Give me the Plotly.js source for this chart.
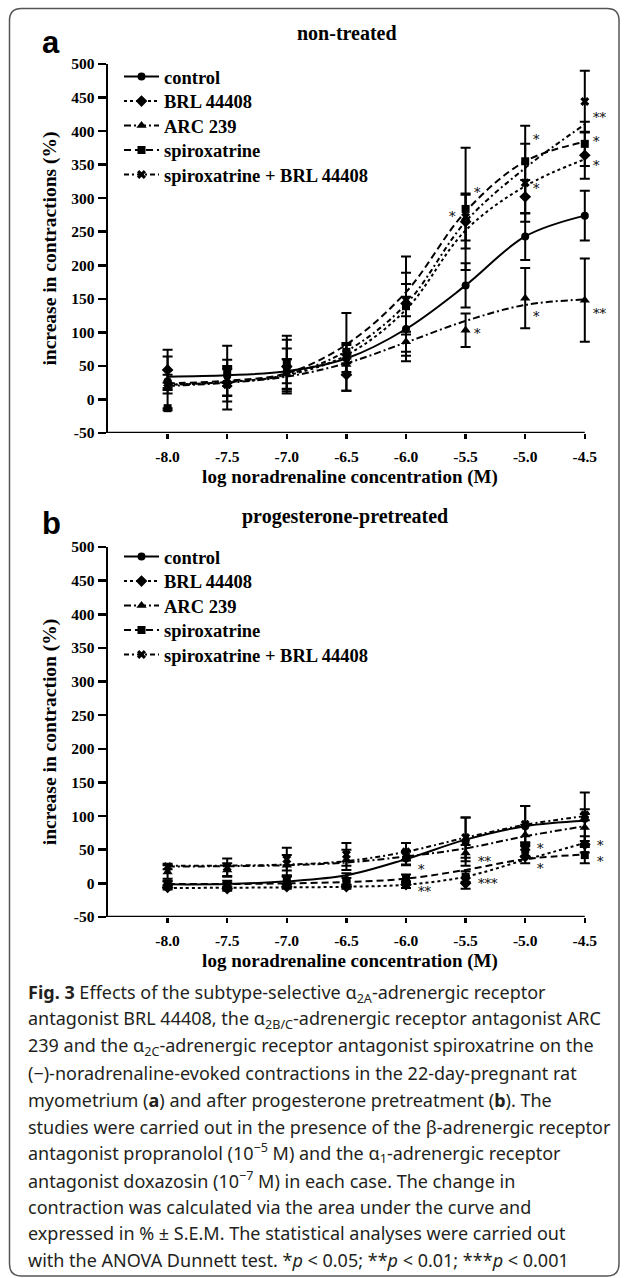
<!DOCTYPE html>
<html><head><meta charset="utf-8">
<script src="https://cdn.plot.ly/plotly-3.0.1.min.js"></script>
<style>html,body{margin:0;padding:0;background:#fff;} #chart{width:627px;height:1278px;}
#chart text{-webkit-font-smoothing:antialiased;}</style>
</head><body><div id="chart"></div>
<script>
// ---------- data ----------
const concentrations = [-8.0, -7.5, -7.0, -6.5, -6.0, -5.5, -5.0, -4.5];
const xTickLabels = ['-8.0', '-7.5', '-7.0', '-6.5', '-6.0', '-5.5', '-5.0', '-4.5'];
const yTickValues = [-50, 0, 50, 100, 150, 200, 250, 300, 350, 400, 450, 500];
const yTickLabels = ['-50', '0', '50', '100', '150', '200', '250', '300', '350', '400', '450', '500'];
const seriesNames = ['control', 'BRL 44408', 'ARC 239', 'spiroxatrine', 'spiroxatrine + BRL 44408'];

// panel a: non-treated (mean, S.E.M., fitted curve read at each concentration)
const aControl = [27, 35, 42, 61, 105, 170, 243, 274];
const aControlErr = [10, 15, 18, 20, 48, 33, 35, 37];
const aControlFit = [34, 36, 42, 61, 105, 170, 243, 274];
const aBRL = [44, 25, 49, 37, 143, 265, 302, 364];
const aBRLErr = [30, 20, 40, 24, 46, 40, 25, 35];
const aBRLFit = [22, 26, 36, 66, 134, 252, 318, 358];
const aARC = [17, 22, 38, 52, 86, 103, 151, 148];
const aARCErr = [8, 37, 22, 15, 15, 25, 45, 62];
const aARCFit = [20, 25, 34, 54, 85, 117, 141, 149];
const aSpiro = [-13, 43, 55, 71, 139, 284, 355, 381];
const aSpiroErr = [0, 37, 40, 58, 74, 91, 53, 33];
const aSpiroFit = [24, 28, 39, 82, 160, 280, 355, 384];
const aSpiroBRL = [24, 22, 44, 69, 148, 272, 323, 444];
const aSpiroBRLErr = [40, 25, 32, 15, 24, 35, 58, 46];
const aSpiroBRLFit = [22, 26, 37, 72, 142, 265, 345, 410];
const aStarX = [-5.5, -5.5, -5.5, -5.0, -5.0, -5.0, -4.5, -4.5, -4.5, -4.5];
const aStarY = [309, 272, 99, 387, 315, 123, 421, 384, 349, 128];
const aStarText = ['*', '*', '*', '*', '*', '*', '**', '*', '*', '**'];
const aStarSide = ['right', 'left', 'right', 'right', 'right', 'right', 'right', 'right', 'right', 'right'];

// panel b: progesterone-pretreated
const bControl = [-2, -2, 2, 5, 37, 62, 85, 96];
const bControlErr = [5, 6, 8, 10, 10, 36, 30, 39];
const bControlFit = [-1.5, -1, 3, 12, 36, 65, 85, 93];
const bBRL = [-6, -8, -5, -5, -2, 0, 40, 58];
const bBRLErr = [3, 3, 3, 3, 5, 8, 10, 12];
const bBRLFit = [-7, -6.5, -6, -5, -2, 10, 35, 60];
const bARC = [17, 20, 27, 35, 38, 45, 72, 83];
const bARCErr = [10, 10, 15, 15, 10, 12, 15, 20];
const bARCFit = [25, 25.5, 27, 31, 40, 52, 70, 85];
const bSpiro = [0, -2, 5, 3, 7, 10, 50, 42];
const bSpiroErr = [3, 3, 6, 5, 6, 8, 10, 12];
const bSpiroFit = [-1, -1, 0, 2, 7, 20, 36, 43];
const bSpiroBRL = [25, 24, 36, 43, 47, 68, 88, 102];
const bSpiroBRLErr = [4, 13, 17, 17, 13, 30, 27, 8];
const bSpiroBRLFit = [26, 26.5, 28, 33, 47, 68, 87, 100];
const bStarX = [-6.0, -6.0, -5.5, -5.5, -5.0, -5.0, -4.5, -4.5];
const bStarY = [20, -12, 32, 0, 52, 22, 57, 32];
const bStarText = ['*', '**', '**', '***', '*', '*', '*', '*'];

const captionLines = [
  '<b>Fig. 3</b> Effects of the subtype-selective α<sub>2A</sub>-adrenergic receptor',
  'antagonist BRL 44408, the α<sub>2B/C</sub>-adrenergic receptor antagonist ARC',
  '239 and the α<sub>2C</sub>-adrenergic receptor antagonist spiroxatrine on the',
  '(−)-noradrenaline-evoked contractions in the 22-day-pregnant rat',
  'myometrium (<b>a</b>) and after progesterone pretreatment (<b>b</b>). The',
  'studies were carried out in the presence of the β-adrenergic receptor',
  'antagonist propranolol (10<sup>−5</sup> M) and the α<sub>1</sub>-adrenergic receptor',
  'antagonist doxazosin (10<sup>−7</sup> M) in each case. The change in',
  'contraction was calculated via the area under the curve and',
  'expressed in % ± S.E.M. The statistical analyses were carried out',
  'with the ANOVA Dunnett test. *<i>p</i> &lt; 0.05; **<i>p</i> &lt; 0.01; ***<i>p</i> &lt; 0.001'
];

// ---------- styles / layout ----------
const W = 627, H = 1278;
const SERIF = 'Liberation Serif, Times New Roman, serif';
const SANS = 'Noto Sans, Open Sans, sans-serif';
const styles = [
  {symbol: 'circle', size: 8, dash: 'solid'},
  {symbol: 'diamond', size: 9, dash: '3px,3px'},
  {symbol: 'triangle-up', size: 9, dash: '7px,3px,2px,3px'},
  {symbol: 'square', size: 8, dash: '7px,4px'},
  {symbol: 'x', size: 8, dash: '5px,3px,2px,3px'}
];
const px = x => x / W;
const py = y => 1 - y / H;
const X_MIN = -8.5, X_MAX = -4.44, X_END = -4.5;
const legendRowsA = [77, 101.5, 126, 150.5, 175];
const legendRowsB = [557, 581.5, 606, 630.5, 655];
const legendLeft = 119;

function panel(vals, errs, fits, xa, ya, legendIds) {
  const tr = [];
  vals.forEach((v, i) => {
    const s = styles[i];
    tr.push({x: concentrations, y: fits[i], xaxis: xa, yaxis: ya, mode: 'lines',
      line: {color: '#000', width: 2, dash: s.dash, shape: 'spline', smoothing: 1},
      showlegend: false, hoverinfo: 'skip'});
    tr.push({x: concentrations, y: v, xaxis: xa, yaxis: ya, mode: 'markers', cliponaxis: false,
      marker: {color: '#000', symbol: s.symbol, size: s.size},
      error_y: {type: 'data', array: errs[i], visible: true, color: '#000', thickness: 2, width: 5},
      showlegend: false, name: seriesNames[i]});
    tr.push({x: [null], y: [null], xaxis: xa, yaxis: ya, mode: 'lines+markers', name: seriesNames[i],
      legend: legendIds[i], line: {color: '#000', width: 2, dash: s.dash},
      marker: {color: '#000', symbol: s.symbol, size: s.size}, showlegend: true});
  });
  return tr;
}
const legendIdsA = ['legend', 'legend2', 'legend3', 'legend4', 'legend5'];
const legendIdsB = ['legend6', 'legend7', 'legend8', 'legend9', 'legend10'];

const traces = [].concat(
  panel([aControl, aBRL, aARC, aSpiro, aSpiroBRL], [aControlErr, aBRLErr, aARCErr, aSpiroErr, aSpiroBRLErr],
        [aControlFit, aBRLFit, aARCFit, aSpiroFit, aSpiroBRLFit], 'x', 'y', legendIdsA),
  panel([bControl, bBRL, bARC, bSpiro, bSpiroBRL], [bControlErr, bBRLErr, bARCErr, bSpiroErr, bSpiroBRLErr],
        [bControlFit, bBRLFit, bARCFit, bSpiroFit, bSpiroBRLFit], 'x2', 'y2', legendIdsB)
);

const tickFont = () => ({family: SERIF, size: 15.5, color: '#000', weight: 'bold'});
const titleFont = () => ({family: SERIF, size: 19, color: '#000', weight: 'bold'});
const xDomain = [px(108), px(108 + (X_MAX - X_MIN) * 119.2)];
function xAxis(anchor) {
  return {domain: xDomain, anchor: anchor, range: [X_MIN, X_MAX], tickvals: concentrations, ticktext: xTickLabels,
    ticks: 'outside', ticklen: 5, tickwidth: 2.5, tickcolor: '#000', showline: false,
    showgrid: false, zeroline: false, tickfont: tickFont(), ticklabelstandoff: 4,
    title: {text: 'log noradrenaline concentration (M)', font: titleFont(), standoff: 6}};
}
function yAxis(anchor, dom, title) {
  return {domain: dom, anchor: anchor, range: [-50, 500], tickvals: yTickValues, ticktext: yTickLabels,
    ticks: 'outside', ticklen: 8, tickwidth: 2.5, tickcolor: '#000', showline: true, linewidth: 2.5, linecolor: '#000',
    showgrid: false, zeroline: false, tickfont: tickFont(),
    title: {text: title, font: {family: SERIF, size: 19.5, color: '#000', weight: 'bold'}, standoff: 10}};
}

const annotations = [];
const letterFont = () => ({family: 'Liberation Sans, Arial, sans-serif', size: 31, color: '#000'});
annotations.push({xref: 'paper', yref: 'paper', x: px(51), y: py(42), text: '<b>a</b>', showarrow: false,
  font: letterFont(), xanchor: 'center', yanchor: 'middle'});
annotations.push({xref: 'paper', yref: 'paper', x: px(51.5), y: py(524), text: '<b>b</b>', showarrow: false,
  font: letterFont(), xanchor: 'center', yanchor: 'middle'});
const panelTitleFont = () => ({family: SERIF, size: 20, color: '#000', weight: 'bold'});
annotations.push({xref: 'paper', yref: 'paper', x: px(347), y: py(33), text: 'non-treated', showarrow: false,
  font: panelTitleFont(), xanchor: 'center', yanchor: 'middle'});
annotations.push({xref: 'paper', yref: 'paper', x: px(345), y: py(517), text: 'progesterone-pretreated', showarrow: false,
  font: panelTitleFont(), xanchor: 'center', yanchor: 'middle'});

const starFont = () => ({family: 'DejaVu Serif, Liberation Serif, serif', size: 13, color: '#000'});
aStarX.forEach((x, i) => {
  const right = aStarSide[i] === 'right';
  annotations.push({xref: 'x', yref: 'y', x: x, y: aStarY[i], text: aStarText[i], showarrow: false, font: starFont(),
    xanchor: right ? 'left' : 'right', yanchor: 'middle', xshift: right ? 6 : -8, opacity: 0.99});
});
bStarX.forEach((x, i) => {
  annotations.push({xref: 'x2', yref: 'y2', x: x, y: bStarY[i], text: bStarText[i], showarrow: false, font: starFont(),
    xanchor: 'left', yanchor: 'middle', xshift: 10, opacity: 0.99});
});

const captionTop = 993, captionStep = 26.7;
captionLines.forEach((t, i) => {
  annotations.push({xref: 'paper', yref: 'paper', x: px(26), y: py(captionTop + i * captionStep), text: t,
    showarrow: false, xanchor: 'left', yanchor: 'middle', align: 'left',
    font: {family: SANS, size: 18, color: '#231f20'}});
});

const x0 = 9.5, x1 = 619, y0 = 8.5, y1 = 1276, r = 12;
const framePath = `M${px(x0 + r)},${py(y0)} L${px(x1 - r)},${py(y0)} Q${px(x1)},${py(y0)} ${px(x1)},${py(y0 + r)} ` +
  `L${px(x1)},${py(y1 - r)} Q${px(x1)},${py(y1)} ${px(x1 - r)},${py(y1)} L${px(x0 + r)},${py(y1)} ` +
  `Q${px(x0)},${py(y1)} ${px(x0)},${py(y1 - r)} L${px(x0)},${py(y0 + r)} Q${px(x0)},${py(y0)} ${px(x0 + r)},${py(y0)} Z`;

const shapes = [
  {type: 'path', xref: 'paper', yref: 'paper', path: framePath, line: {color: '#555', width: 1.5}},
  {type: 'line', xref: 'x', yref: 'y', x0: X_MIN, x1: X_END, y0: -50, y1: -50, line: {color: '#000', width: 2.5}},
  {type: 'line', xref: 'x2', yref: 'y2', x0: X_MIN, x1: X_END, y0: -50, y1: -50, line: {color: '#000', width: 2.5}}
];

const layout = {
  width: W, height: H, margin: {l: 0, r: 0, t: 0, b: 0}, paper_bgcolor: '#fff', plot_bgcolor: '#fff',
  showlegend: true,
  xaxis: xAxis('y'), yaxis: yAxis('x', [py(433), py(64)], 'increase in contractions (%)'),
  xaxis2: xAxis('y2'), yaxis2: yAxis('x2', [py(917), py(547)], 'increase in contraction (%)'),
  annotations: annotations, shapes: shapes
};
function legendBox(rowY) {
  return {x: px(legendLeft), y: py(rowY), xanchor: 'left', yanchor: 'middle', bgcolor: 'rgba(0,0,0,0)',
    borderwidth: 0, itemwidth: 35, font: {family: SERIF, size: 18.5, color: '#000', weight: 'bold'}};
}
legendIdsA.forEach((id, i) => { layout[id] = legendBox(legendRowsA[i]); });
legendIdsB.forEach((id, i) => { layout[id] = legendBox(legendRowsB[i]); });

Plotly.newPlot('chart', traces, layout, {staticPlot: true, displayModeBar: false});
</script></body></html>
